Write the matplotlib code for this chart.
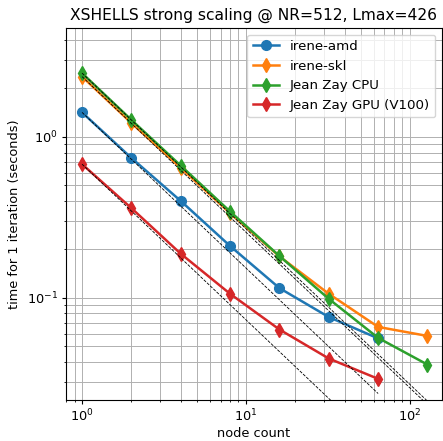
import numpy as np
import matplotlib
matplotlib.use("Agg")
import matplotlib.pyplot as plt

# node counts and time per iteration (seconds)
nodes_amd = [1, 2, 4, 8, 16, 32, 64]
t_amd = [1.42, 0.74, 0.40, 0.21, 0.115, 0.076, 0.056]

nodes_skl = [1, 2, 4, 8, 16, 32, 64, 128]
t_skl = [2.37, 1.22, 0.642, 0.336, 0.181, 0.106, 0.066, 0.058]

nodes_jzcpu = [1, 2, 4, 8, 16, 32, 64, 128]
t_jzcpu = [2.49, 1.275, 0.663, 0.344, 0.182, 0.0986, 0.0564, 0.0385]

nodes_jzgpu = [1, 2, 4, 8, 16, 32, 64]
t_jzgpu = [0.677, 0.361, 0.188, 0.106, 0.0636, 0.042, 0.0314]

series = [
    ("irene-amd", nodes_amd, t_amd, "o"),
    ("irene-skl", nodes_skl, t_skl, "d"),
    ("Jean Zay CPU", nodes_jzcpu, t_jzcpu, "d"),
    ("Jean Zay GPU (V100)", nodes_jzgpu, t_jzgpu, "d"),
]

# slope of the dashed reference lines as they appear in the picture
ref_slope = 0.967

plt.rcParams["font.size"] = 9.3
plt.rcParams["grid.linewidth"] = 0.7
plt.rcParams["xtick.major.size"] = 3
plt.rcParams["ytick.major.size"] = 3
plt.rcParams["xtick.minor.size"] = 1.75
plt.rcParams["ytick.minor.size"] = 1.75
plt.rcParams["xtick.major.pad"] = 2.5
plt.rcParams["ytick.major.pad"] = 3

fig = plt.figure(figsize=(4.43, 4.41), dpi=100)
ax = fig.add_axes([66/443, 41/441, 376/443, 372/441])

for label, n, t, m in series:
    ax.loglog(n, t, marker=m, lw=1.8, ms=7, label=label)

# scaling lines from the first point
for label, n, t, m in series:
    n = np.array(n, dtype=float)
    ax.loglog(n, t[0] * (n[0] / n) ** ref_slope, "k--", lw=0.6)

ax.set_xlim(0.798, 157)
ax.set_ylim(0.0232, 4.75)
ax.grid(True, which="both")
ax.set_xlabel("node count", labelpad=2)
ax.set_ylabel("time for 1 iteration (seconds)")
ax.set_title("XSHELLS strong scaling @ NR=512, Lmax=426", fontsize=11.2)
ax.legend(loc="upper right", fontsize=9.6)

plt.savefig("out.png", dpi=100)
